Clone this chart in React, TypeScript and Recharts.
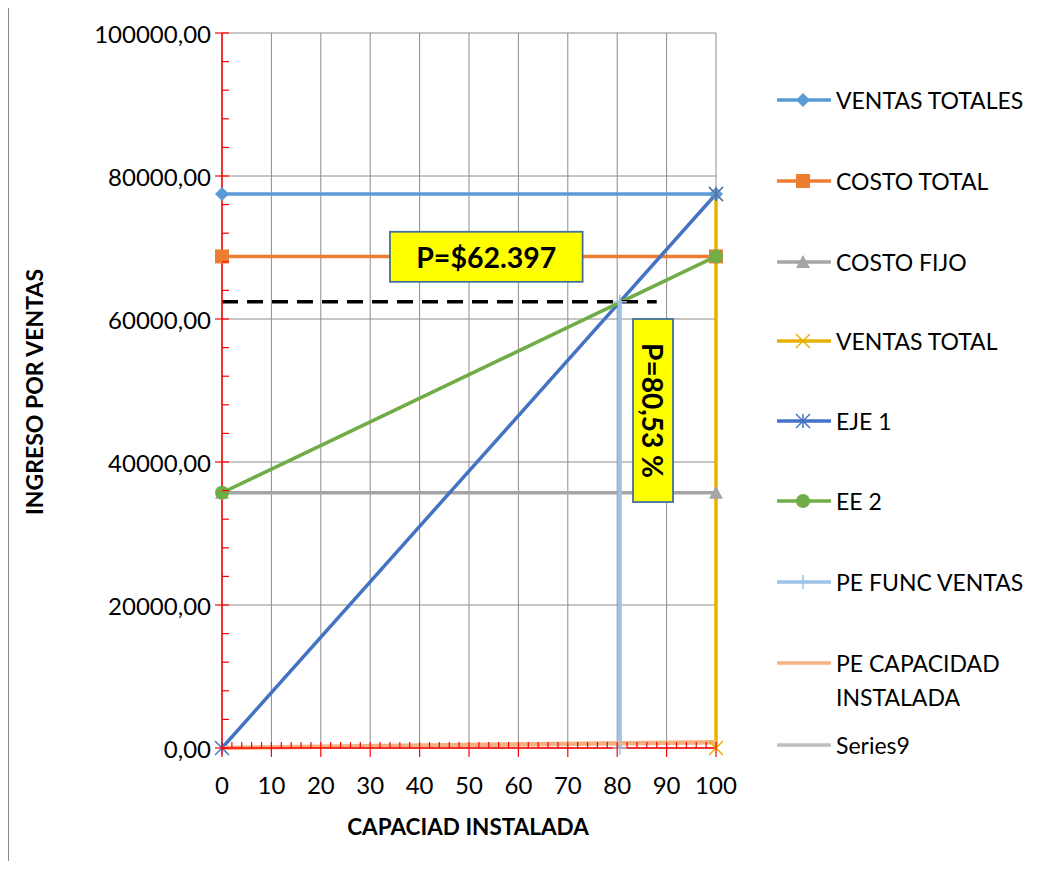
import { CartesianGrid, Line, LineChart, XAxis, YAxis } from "recharts";

// capacidad instalada (%) for the two-point series
const capacidad = [0, 100];
const ventasTotales = [77480, 77480];
const costoTotal = [68750, 68750];
const costoFijo = [35700, 35700];
const eje1 = [0, 77480];
const ee2 = [35700, 68750];
const peCapacidad = [0, 820];

// vertical series
const ventasTotalX = [100, 100];
const ventasTotalY = [0, 77480];
const peFuncX = [80.53, 80.53];
const peFuncY = [0, 62397];

// dashed guide at the break-even revenue
const peGuideX = [0, 88];
const peGuideY = [62397, 62397];

const xTicks = [0, 10, 20, 30, 40, 50, 60, 70, 80, 90, 100];
const yTicks = [0, 20000, 40000, 60000, 80000, 100000];
const xMinor = Array.from({ length: 51 }, (_, i) => i * 2);
const yMinor = Array.from({ length: 26 }, (_, i) => i * 4000);

const priceNote = { text: "P=$62.397", x1: 34, x2: 73, y1: 72200, y2: 65200 };
const pctNote = { text: "P=80,53 %", x1: 83.2, x2: 91.3, y1: 60000, y2: 34400 };

const W = 1059;
const H = 869;
const PL = 222;
const PR = 716;
const PT = 33;
const PB = 748;
const FONT = "Lato, 'Open Sans', sans-serif";
const RED = "#FF0000";

const sx = (v: number) => PL + (v / 100) * (PR - PL);
const sy = (v: number) => PB - (v / 100000) * (PB - PT);

const pairs = (xs: number[], ys: number[]) => xs.map((x, i) => ({ x, y: ys[i] }));

type Shape = "diamond" | "square" | "triangle" | "x" | "star" | "circle" | "plus" | "none";

const series: { name: string; color: string; shape: Shape; width: number; data: { x: number; y: number }[] }[] = [
  { name: "VENTAS TOTALES", color: "#5B9BD5", shape: "diamond", width: 3.5, data: pairs(capacidad, ventasTotales) },
  { name: "COSTO TOTAL", color: "#ED7D31", shape: "square", width: 3.5, data: pairs(capacidad, costoTotal) },
  { name: "COSTO FIJO", color: "#A5A5A5", shape: "triangle", width: 3.5, data: pairs(capacidad, costoFijo) },
  { name: "VENTAS TOTAL", color: "#E8B100", shape: "x", width: 3.5, data: pairs(ventasTotalX, ventasTotalY) },
  { name: "EJE 1", color: "#4472C4", shape: "star", width: 3.5, data: pairs(capacidad, eje1) },
  { name: "EE 2", color: "#70AD47", shape: "circle", width: 3.5, data: pairs(capacidad, ee2) },
  { name: "PE FUNC VENTAS", color: "#9DC3E6", shape: "plus", width: 4, data: pairs(peFuncX, peFuncY) },
  { name: "PE CAPACIDAD INSTALADA", color: "#F4B183", shape: "none", width: 4.5, data: pairs(capacidad, peCapacidad) },
  { name: "Series9", color: "#BFBFBF", shape: "none", width: 3.5, data: [] },
];

function drawMarker(shape: Shape, color: string, cx: number, cy: number, key?: string) {
  const s = 7;
  switch (shape) {
    case "diamond":
      return <polygon key={key} points={`${cx},${cy - s} ${cx + s},${cy} ${cx},${cy + s} ${cx - s},${cy}`} fill={color} />;
    case "square":
      return <rect key={key} x={cx - s} y={cy - s} width={2 * s} height={2 * s} fill={color} />;
    case "triangle":
      return <polygon key={key} points={`${cx},${cy - s} ${cx + s},${cy + s - 1} ${cx - s},${cy + s - 1}`} fill={color} />;
    case "x":
      return (
        <g key={key} stroke={color} strokeWidth={1.5}>
          <line x1={cx - s} y1={cy - s} x2={cx + s} y2={cy + s} />
          <line x1={cx - s} y1={cy + s} x2={cx + s} y2={cy - s} />
        </g>
      );
    case "star":
      return (
        <g key={key} stroke={color} strokeWidth={1.5}>
          <line x1={cx - s} y1={cy - s} x2={cx + s} y2={cy + s} />
          <line x1={cx - s} y1={cy + s} x2={cx + s} y2={cy - s} />
          <line x1={cx} y1={cy - s} x2={cx} y2={cy + s} />
        </g>
      );
    case "circle":
      return <circle key={key} cx={cx} cy={cy} r={s} fill={color} />;
    case "plus":
      return (
        <g key={key} stroke={color} strokeWidth={1.5}>
          <line x1={cx} y1={cy - s} x2={cx} y2={cy + s} />
          <line x1={cx - s} y1={cy} x2={cx + s} y2={cy} />
        </g>
      );
    default:
      return <g key={key} />;
  }
}

const fmtY = (v: number) => v.toFixed(2).replace(".", ",");

function YTick(props: any) {
  const { x, y, payload } = props;
  const major = payload.value % 20000 === 0;
  if (!major) return <line x1={x} x2={x + 7} y1={y} y2={y} stroke={RED} strokeWidth={1.2} />;
  return (
    <g>
      <line x1={x - 7} x2={x + 7} y1={y} y2={y} stroke={RED} strokeWidth={1.2} />
      <text x={x - 11} y={y} textAnchor="end" dominantBaseline="central" fontSize={24} fill="#000" fontFamily={FONT}>
        {fmtY(payload.value)}
      </text>
    </g>
  );
}

function XTick(props: any) {
  const { x, y, payload } = props;
  const major = payload.value % 10 === 0;
  if (!major) return <line x1={x} x2={x} y1={y} y2={y - 6} stroke={RED} strokeWidth={1.2} />;
  return (
    <g>
      <line x1={x} x2={x} y1={y - 6} y2={y + 9} stroke={RED} strokeWidth={1.2} />
      <text x={x} y={y + 36} textAnchor="middle" dominantBaseline="central" fontSize={24} fill="#000" fontFamily={FONT}>
        {payload.value}
      </text>
    </g>
  );
}

const legendTops = [100, 181, 262, 341, 421, 501, 582, 663, 745];

function LegendBox() {
  return (
    <div style={{ position: "absolute", left: 0, top: 0 }}>
      {series.map((s, i) => (
        <div key={s.name} style={{ position: "absolute", left: 776, top: legendTops[i] - 14, display: "flex", alignItems: "flex-start" }}>
          <svg width={56} height={28} style={{ flex: "none" }}>
            <line x1={1} x2={55} y1={14} y2={14} stroke={s.color} strokeWidth={3.5} />
            {drawMarker(s.shape, s.color, 27, 14)}
          </svg>
          <div
            style={{
              marginLeft: 4,
              fontFamily: FONT,
              fontSize: 23,
              lineHeight: "34px",
              marginTop: -3,
              width: 215,
              color: "#000",
            }}
          >
            {s.name}
          </div>
        </div>
      ))}
    </div>
  );
}

function Note({ n, vertical }: { n: typeof priceNote; vertical?: boolean }) {
  const x = sx(n.x1);
  const y = sy(n.y1);
  const w = sx(n.x2) - x;
  const h = sy(n.y2) - y;
  const cx = x + w / 2;
  const cy = y + h / 2;
  return (
    <g>
      <rect x={x} y={y} width={w} height={h} fill="#FFFF00" stroke="#41719C" strokeWidth={1.8} />
      <text
        x={cx}
        y={cy}
        textAnchor="middle"
        dominantBaseline="central"
        fontFamily={FONT}
        fontWeight="bold"
        fontSize={vertical ? 28 : 28.5}
        transform={vertical ? `rotate(90 ${cx} ${cy})` : undefined}
      >
        {n.text}
      </text>
    </g>
  );
}

export default function App() {
  return (
    <div style={{ position: "relative", width: W, height: H, margin: -8, overflow: "hidden", background: "#fff" }}>
      <div
        style={{
          position: "absolute",
          left: 8,
          top: 4,
          width: W + 20,
          height: H + 20,
          borderLeft: "1.5px solid #8A8A8A",
          borderTop: "1.5px solid #8A8A8A",
        }}
      />
      <div style={{ position: "absolute", left: 0, top: 0 }}>
        <LineChart width={W} height={H} margin={{ top: PT, right: W - PR, bottom: H - PB - 60, left: 0 }}>
          <CartesianGrid stroke="#8C8C8C" strokeWidth={1} verticalValues={xTicks} horizontalValues={yTicks} />
          <XAxis
            type="number"
            dataKey="x"
            domain={[0, 100]}
            ticks={xMinor}
            interval={0}
            height={60}
            tickSize={0}
            tickMargin={0}
            tickLine={false}
            tick={<XTick />}
            axisLine={{ stroke: RED, strokeWidth: 1.5 }}
          />
          <YAxis
            type="number"
            dataKey="y"
            domain={[0, 100000]}
            ticks={yMinor}
            interval={0}
            width={PL}
            tickSize={0}
            tickMargin={0}
            tickLine={false}
            tick={<YTick />}
            axisLine={{ stroke: RED, strokeWidth: 1.5 }}
          />
          {series.map((s) => (
            <Line
              key={s.name}
              data={s.data}
              dataKey="y"
              name={s.name}
              stroke={s.color}
              strokeWidth={s.width}
              dot={(p: any) => drawMarker(s.shape, s.color, p.cx, p.cy, `${s.name}-${p.index}`)}
              activeDot={false}
              isAnimationActive={false}
            />
          ))}
          <Line
            data={pairs(peGuideX, peGuideY)}
            dataKey="y"
            stroke="#000"
            strokeWidth={3.5}
            strokeDasharray="16 9"
            dot={false}
            activeDot={false}
            legendType="none"
            isAnimationActive={false}
          />
        </LineChart>
      </div>
      <svg width={W} height={H} style={{ position: "absolute", left: 0, top: 0, pointerEvents: "none" }}>
        <Note n={priceNote} />
        <Note n={pctNote} vertical />
        <text
          x={34}
          y={392}
          textAnchor="middle"
          dominantBaseline="central"
          fontFamily={FONT}
          fontWeight="bold"
          fontSize={23}
          transform="rotate(-90 34 392)"
        >
          INGRESO POR VENTAS
        </text>
        <text x={468} y={826} textAnchor="middle" dominantBaseline="central" fontFamily={FONT} fontWeight="bold" fontSize={22.5}>
          CAPACIAD INSTALADA
        </text>
      </svg>
      <LegendBox />
    </div>
  );
}
